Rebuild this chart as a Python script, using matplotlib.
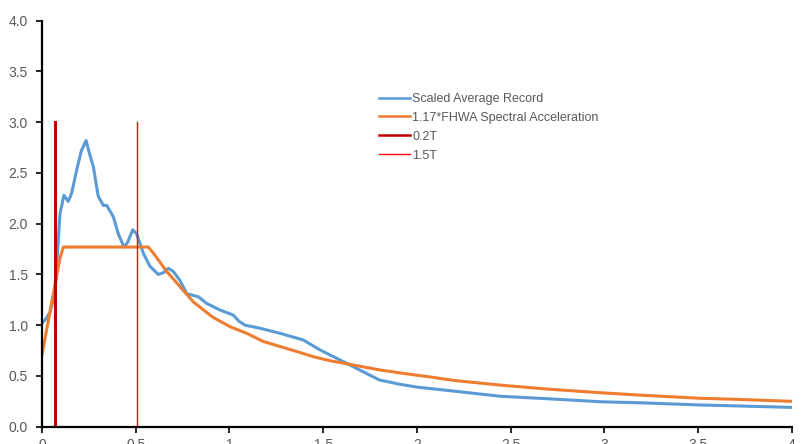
import matplotlib
matplotlib.use("Agg")
import matplotlib.pyplot as plt
import numpy as np

plt.rcParams["font.family"] = ["Liberation Sans", "DejaVu Sans"]
plt.rcParams["font.size"] = 9

# period (s) vs spectral acceleration (g)
blue_T = [0.0, 0.02, 0.043, 0.069, 0.096, 0.117, 0.14, 0.158, 0.185, 0.21, 0.235, 0.255,
          0.274, 0.30, 0.327, 0.345, 0.38, 0.407, 0.437, 0.455, 0.484, 0.505, 0.54, 0.576,
          0.62, 0.65, 0.674, 0.70, 0.736, 0.772, 0.834, 0.878, 0.949, 1.02, 1.05, 1.083,
          1.163, 1.27, 1.394, 1.483, 1.572, 1.625, 1.714, 1.80, 1.909, 2.0, 2.2, 2.443,
          2.7, 2.976, 3.2, 3.51, 3.7, 4.0]
blue_SA = [1.02, 1.06, 1.13, 1.32, 2.10, 2.28, 2.22, 2.30, 2.53, 2.72, 2.82, 2.68,
           2.56, 2.27, 2.18, 2.18, 2.07, 1.90, 1.77, 1.81, 1.94, 1.90, 1.71, 1.58,
           1.50, 1.52, 1.56, 1.53, 1.44, 1.31, 1.28, 1.215, 1.15, 1.10, 1.04, 1.00,
           0.97, 0.92, 0.854, 0.756, 0.674, 0.624, 0.54, 0.46, 0.418, 0.39, 0.35, 0.30,
           0.275, 0.246, 0.235, 0.214, 0.205, 0.19]

fhwa_T = [0.0, 0.096, 0.114, 0.567, 0.594, 0.665, 0.736, 0.807, 0.91, 1.003, 1.092,
          1.18, 1.27, 1.36, 1.447, 1.536, 1.625, 1.80, 1.909, 2.07, 2.2, 2.443, 2.7,
          2.976, 3.2, 3.51, 3.7, 4.0]
fhwa_SA = [0.71, 1.66, 1.77, 1.77, 1.71, 1.53, 1.38, 1.23, 1.08, 0.985, 0.92,
           0.84, 0.79, 0.74, 0.69, 0.65, 0.62, 0.56, 0.53, 0.49, 0.455, 0.41, 0.37,
           0.335, 0.31, 0.28, 0.27, 0.25]

t02_T = [0.069, 0.069]
t02_SA = [0.0, 3.0]
t15_T = [0.505, 0.505]
t15_SA = [0.0, 3.0]

labels = ["Scaled Average Record", "1.17*FHWA Spectral Acceleration", "0.2T", "1.5T"]
gray = "#595959"

fig = plt.figure(figsize=(8.03, 4.44), dpi=100)
ax = fig.add_axes([42 / 803, 1 - 426.7 / 444, 750 / 803, 406 / 444])

ax.plot(blue_T, blue_SA, color="#5B9BD5", lw=2.2, label=labels[0], solid_joinstyle="round")
ax.plot(fhwa_T, fhwa_SA, color="#ED7D31", lw=2.2, label=labels[1], solid_joinstyle="round")
ax.plot(t02_T, t02_SA, color="#C00000", lw=2.2, label=labels[2])
ax.plot(t15_T, t15_SA, color="#FF0000", lw=1.0, label=labels[3])

ax.set_xlim(0, 4)
ax.set_ylim(0, 4)
ax.set_xticks(np.arange(0, 4.01, 0.5))
ax.set_xticklabels(["0", "0.5", "1", "1.5", "2", "2.5", "3", "3.5", "4"])
ax.set_yticks(np.arange(0, 4.01, 0.5))
ax.set_yticklabels(["%.1f" % v for v in np.arange(0, 4.01, 0.5)])

for side in ["top", "right"]:
    ax.spines[side].set_visible(False)
ax.spines["left"].set_linewidth(1.6)
ax.spines["bottom"].set_linewidth(1.6)
ax.tick_params(axis="both", direction="out", length=4, width=1.2, color="black",
               labelcolor=gray, labelsize=10)
ax.tick_params(axis="y", pad=6)
ax.tick_params(axis="x", pad=4)

leg = ax.legend(loc="upper left", bbox_to_anchor=(379 / 803, 1 - 93 / 444),
                bbox_transform=fig.transFigure, frameon=False, fontsize=9,
                handlelength=2.5, handletextpad=0.15, labelspacing=0.55,
                borderpad=0, borderaxespad=0, labelcolor=gray)
for line in leg.get_lines()[:3]:
    line.set_linewidth(1.8)

fig.savefig("out.png", dpi=100)
